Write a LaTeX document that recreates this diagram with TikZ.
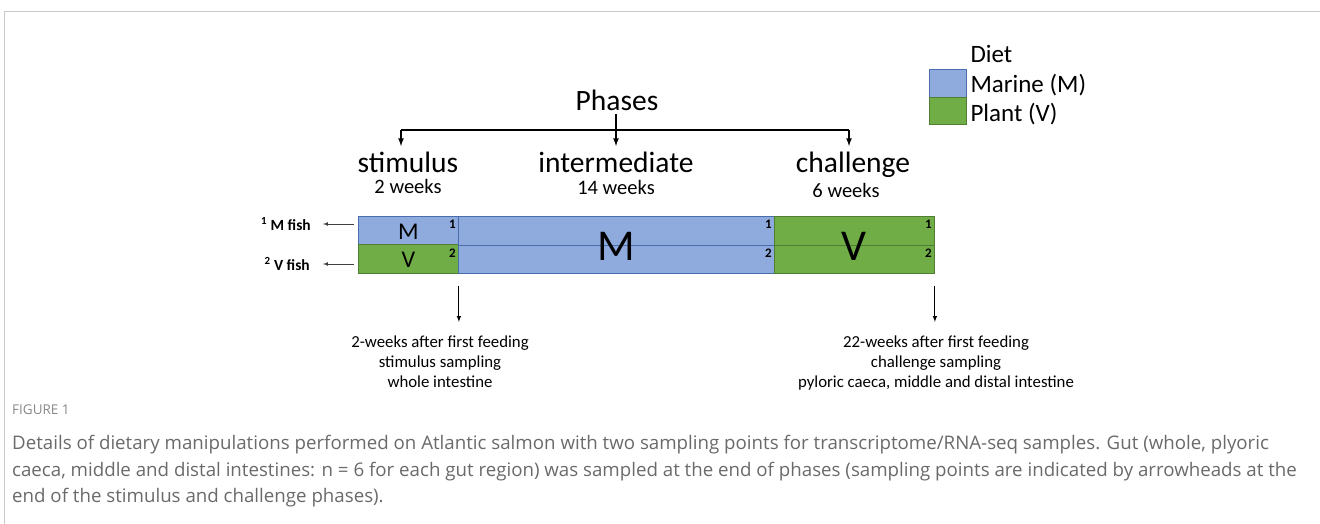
\documentclass[tikz,border=0pt]{standalone}
\usepackage{fontspec}
\setmainfont{Carlito}
\newfontfamily\capfont{Open Sans}
\usepackage{pgf,tikz}
\usetikzlibrary{arrows}
\definecolor{marine}{HTML}{8FAADC}
\definecolor{marinedk}{HTML}{4A6DAE}
\definecolor{plant}{HTML}{70AD47}
\definecolor{plantdk}{HTML}{507E32}
\definecolor{capgray}{HTML}{6A6A6A}
\definecolor{framegray}{HTML}{C8C8C8}
\tikzset{
  cell/.style={draw,inner sep=0pt,anchor=north west,line width=0.9pt},
  mcell/.style={cell,fill=marine,draw=marinedk},
  vcell/.style={cell,fill=plant,draw=plantdk},
  num/.style={font=\fontsize{13}{13}\selectfont\bfseries,anchor=north east,inner sep=0pt},
  fish/.style={font=\fontsize{15.5}{16}\selectfont\bfseries,anchor=east,inner sep=0pt},
  phase/.style={font=\fontsize{29.5}{30}\selectfont},
  weeks/.style={font=\fontsize{20.5}{21}\selectfont},
  samp/.style={font=\fontsize{16.8}{20.3}\selectfont,align=center,anchor=north},
  capline/.style={font=\capfont\fontsize{18.7}{18}\selectfont,text=capgray,anchor=base west,inner sep=0pt}
}
\begin{document}
\begin{tikzpicture}[x=1pt,y=-1pt,>=latex]
\useasboundingbox (0,0) rectangle (1320,524);
\draw [framegray] (4,524) -- (4,11) -- (1320,11);
% legend
\node [anchor=west,font=\fontsize{25}{25}\selectfont] (diet) at (967,54) {Diet};
\node [mcell,minimum width=37pt,minimum height=28pt] (legm) at (929,69) {};
\node [vcell,minimum width=37pt,minimum height=27pt] (legv) at (929,97) {};
\node [anchor=west,font=\fontsize{25}{25}\selectfont] (marine) at (967,85) {Marine (M)};
\node [anchor=west,font=\fontsize{25}{25}\selectfont] (plant) at (967,114) {Plant (V)};
% phases
\node [phase] (phases) at (617,100) {Phases};
\node [phase,anchor=base] (stim) at (408,172) {stimulus};
\node [phase,anchor=base] (inter) at (616,172) {intermediate};
\node [phase,anchor=base] (chal) at (853,172) {challenge};
\node [weeks] (stimw) at (408,186) {2 weeks};
\node [weeks] (interw) at (616,187) {14 weeks};
\node [weeks] (chalw) at (846,190) {6 weeks};
\coordinate (hl) at (401,130);
\coordinate (hr) at (849,130);
\coordinate (hm) at (616,130);
\draw [line width=1.6pt] (hl) -- (hr);
\draw [line width=1.6pt,->] (hm |- phases.south) -- (hm |- 0,146);
\draw [line width=1.6pt,->] (hl) -- (hl |- 0,146);
\draw [line width=1.6pt,->] (hr) -- (hr |- 0,146);
% bar
\node [mcell,minimum width=100pt,minimum height=28pt] (sM) at (358,216) {};
\node [vcell,minimum width=100pt,minimum height=29pt] (sV) at (358,244) {};
\node [mcell,minimum width=316pt,minimum height=57pt] (iM) at (458,216) {};
\node [vcell,minimum width=160pt,minimum height=57pt] (cV) at (774,216) {};
\draw [marinedk,line width=0.9pt] (iM.west) -- (iM.east);
\draw [plantdk,line width=0.9pt] (cV.west) -- (cV.east);
\node [font=\fontsize{24}{24}\selectfont] at ([yshift=-1pt]sM.center) {M};
\node [font=\fontsize{24}{24}\selectfont] at ([yshift=-1pt]sV.center) {V};
\node [font=\fontsize{44}{44}\selectfont] at ([yshift=-1pt]iM.center) {M};
\node [font=\fontsize{44}{44}\selectfont] at ([yshift=-1pt]cV.center) {V};
\node [num] at ([xshift=-3pt,yshift=-4pt]sM.north east) {1};
\node [num] at ([xshift=-3pt,yshift=-4pt]iM.north east) {1};
\node [num] at ([xshift=-3pt,yshift=-4pt]cV.north east) {1};
\node [num] at ([xshift=-3pt,yshift=-5pt]sV.north east) {2};
\node [num] at ([xshift=-3pt,yshift=-33pt]iM.north east) {2};
\node [num] at ([xshift=-3pt,yshift=-33pt]cV.north east) {2};
% fish
\node [fish] (mfish) at (311,224) {\textsuperscript{1}\ M fish};
\node [fish] (vfish) at (310,264) {\textsuperscript{2}\ V fish};
\draw [black!75,line width=0.7pt,->] (mfish.east -| sM.west) ++(-4,0) -- ([xshift=12pt]mfish.east);
\draw [black!75,line width=0.7pt,->] (vfish.east -| sV.west) ++(-4,0) -- ([xshift=13pt]vfish.east);
% sampling
\draw [line width=1pt,->] ([yshift=-12pt]sV.south east) -- ([yshift=-48pt]sV.south east);
\draw [line width=1pt,->] ([yshift=-12pt]cV.south east) -- ([yshift=-48pt]cV.south east);
\node [samp] (ssamp) at (440,332) {2-weeks after first feeding\\stimulus sampling\\whole intestine};
\node [samp] (csamp) at (936,332) {22-weeks after first feeding\\challenge sampling\\pyloric caeca, middle and distal intestine};
% caption
\node [capline,font=\capfont\fontsize{13.5}{14}\selectfont,text=capgray!80] (fig) at (12,414) {FIGURE 1};
\node [capline] (cap1) at (12,449) {Details of dietary manipulations performed on Atlantic salmon with two sampling points for transcriptome/RNA-seq samples. Gut (whole, plyoric};
\node [capline] (cap2) at (12,476) {caeca, middle and distal intestines: n = 6 for each gut region) was sampled at the end of phases (sampling points are indicated by arrowheads at the};
\node [capline] (cap3) at (12,502) {end of the stimulus and challenge phases).};
\end{tikzpicture}
\end{document}
